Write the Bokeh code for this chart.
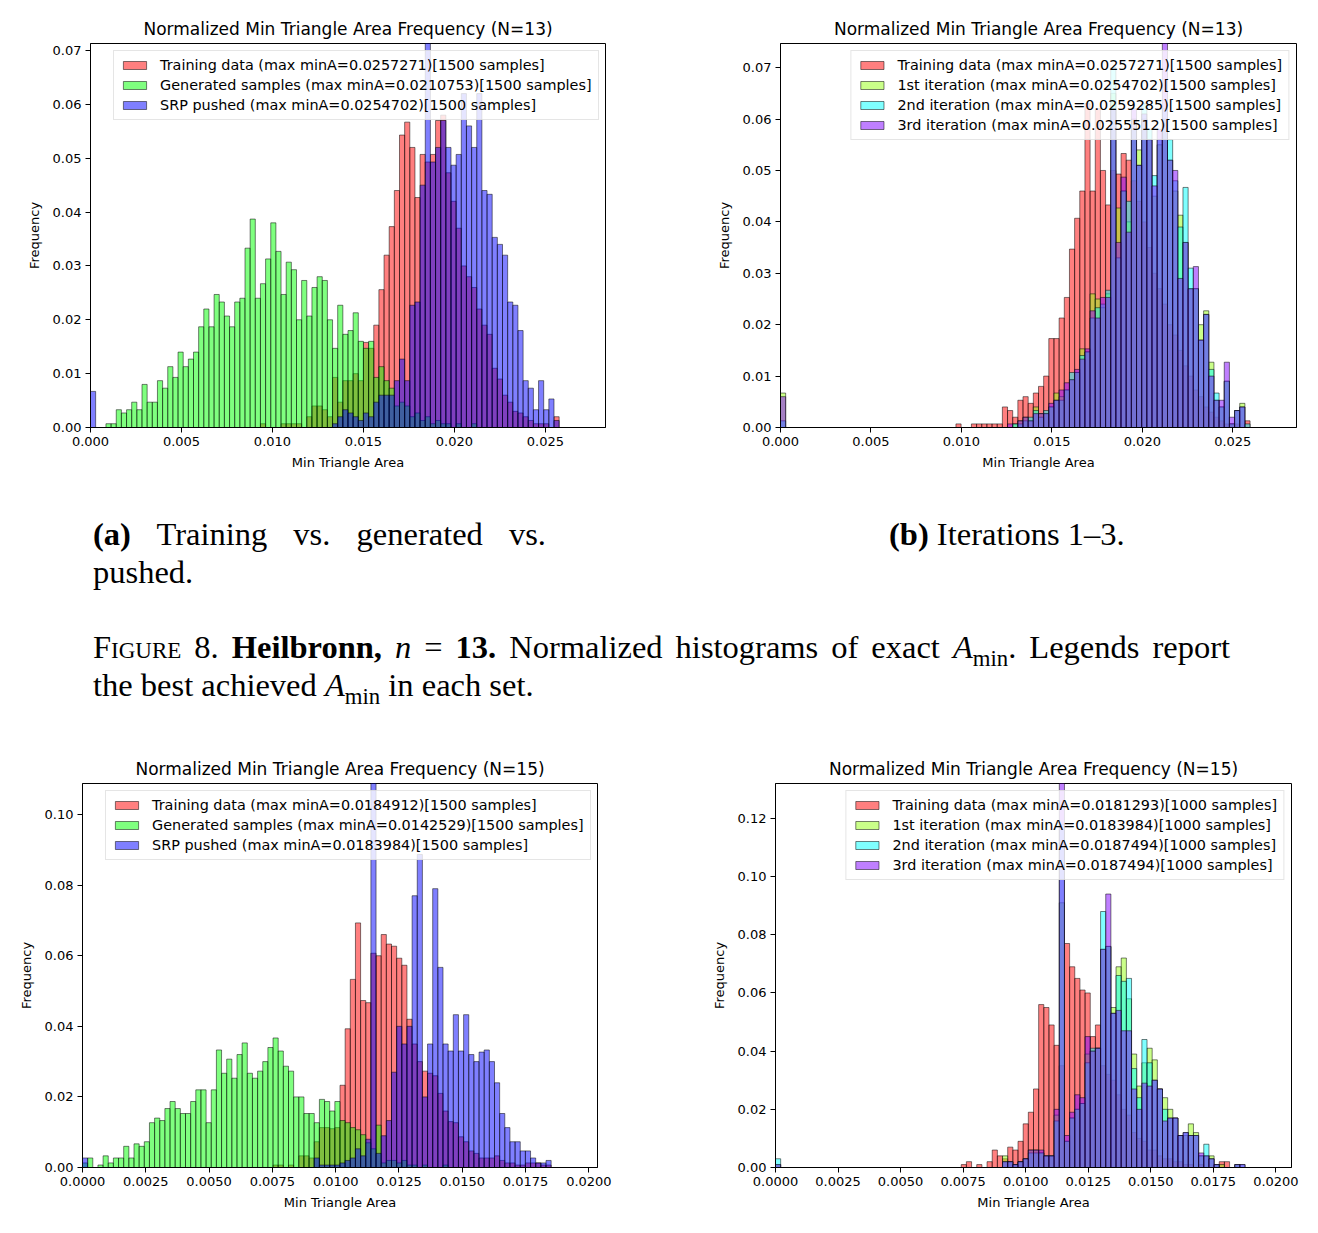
import numpy as np
from bokeh.plotting import figure
from bokeh.models import Range1d, FixedTicker, PrintfTickFormatter, Div
from bokeh.layouts import column, row
from bokeh.embed import file_html
from bokeh.resources import INLINE

FONT = "DejaVu Sans"
N_BINS = 100

# ---------------- data ----------------
# Each histogram is a set of contiguous runs {first_bin: [normalized frequency, ...]}
# over 100 equal bins spanning [0, 1.1 * best value in the panel].

TITLE_13 = "Normalized Min Triangle Area Frequency (N=13)"
TITLE_15 = "Normalized Min Triangle Area Frequency (N=15)"

# (a) n = 13 : training vs generated vs pushed
A_BEST = ["0.0257271", "0.0210753", "0.0254702"]
A_SAMPLES = [1500, 1500, 1500]
A_NAMES = ["Training data", "Generated samples", "SRP pushed"]
A_TRAIN = {33: [0.0007, 0, 0, 0, 0.0007, 0.0007, 0.0007, 0.0007, 0, 0.002,
                0.004, 0.004, 0.0033, 0.002, 0.0093, 0.0047, 0.0087, 0.0087, 0.010, 0.0087,
                0.0158, 0.0147, 0.019, 0.0256, 0.032, 0.0373, 0.044, 0.0543, 0.0567, 0.052,
                0.0427, 0.0507, 0.0493, 0.0507, 0.057, 0.058, 0.0473, 0.042, 0.037, 0.030,
                0.028, 0.026, 0.022, 0.019, 0.0173, 0.011, 0.009, 0.006, 0.0047, 0.003,
                0.0027, 0.002, 0.0013, 0.0007, 0.0007, 0.0007, 0, 0.002]}
A_GEN = {3: [0.0007, 0.0007, 0.0033, 0.0027, 0.0033, 0.0047, 0.0033,
             0.008, 0.0047, 0.0047, 0.0087, 0.0073, 0.0113, 0.0093, 0.014, 0.0113, 0.0127,
             0.014, 0.0187, 0.022, 0.0187, 0.0247, 0.0233, 0.0207, 0.0187, 0.0233, 0.024,
             0.0333, 0.0387, 0.024, 0.0267, 0.0313, 0.038, 0.0327, 0.0247, 0.0307, 0.0293,
             0.02, 0.0273, 0.0207, 0.026, 0.028, 0.0273, 0.02, 0.0147, 0.0227, 0.0173,
             0.018, 0.0213, 0.016, 0.0147, 0.016, 0.0093, 0.0113, 0.0087, 0.0073, 0.004,
             0.0047, 0.004, 0.002, 0.0027, 0.0013, 0.002, 0.0007, 0.0013, 0.0007, 0.0007,
             0, 0.0007, 0, 0, 0.0007]}
A_SRP = {0: [0.0067],
         47: [0.0007, 0.002, 0.0033,
              0.0027, 0.002, 0.0013, 0.0027, 0.002, 0.0047, 0.006, 0.006, 0.006, 0.0087,
              0.0127, 0.0087, 0.0227, 0.0233, 0.045, 0.074, 0.0493, 0.052, 0.057, 0.052,
              0.0487, 0.0507, 0.062, 0.056, 0.052, 0.062, 0.044, 0.0433, 0.0353, 0.034,
              0.032, 0.0233, 0.0227, 0.018, 0.0087, 0.0073, 0.0033, 0.0087, 0.0033, 0.0053,
              0.0013]}

# (b) n = 13 : SRP iterations 1-3
B_BEST = ["0.0257271", "0.0254702", "0.0259285", "0.0255512"]
B_SAMPLES = [1500, 1500, 1500, 1500]
B_NAMES = ["Training data", "1st iteration", "2nd iteration", "3rd iteration"]
B_TRAIN = {34: [0.0007],
           37: [0.0007, 0.0007, 0.0007,
                0.0007, 0.0007, 0.0007, 0.004, 0.0033, 0.002, 0.0053, 0.006, 0.0047, 0.0067,
                0.008, 0.010, 0.0173, 0.0173, 0.0213, 0.0253, 0.0347, 0.0407, 0.046, 0.063,
                0.046, 0.062, 0.050, 0.0433, 0.050, 0.0493, 0.0533, 0.052, 0.048, 0.044,
                0.040, 0.035, 0.030, 0.027, 0.024, 0.020, 0.018, 0.015, 0.012, 0.010,
                0.0073, 0.006, 0.004, 0.003, 0.002, 0.0013, 0.0007, 0.0007, 0.0007, 0,
                0.0013]}
B_ITER1 = {0: [0.0067],
           44: [0, 0.0007, 0.0013, 0.002, 0.0013, 0.004,
                0.0027, 0.0027, 0.004, 0.0067, 0.006, 0.0073, 0.0093, 0.0107, 0.0153, 0.0147,
                0.026, 0.025, 0.0233, 0.026, 0.065, 0.0427, 0.046, 0.040, 0.060, 0.054,
                0.060, 0.056, 0.045, 0.055, 0.060, 0.052, 0.046, 0.0413, 0.036, 0.027,
                0.027, 0.020, 0.0227, 0.0127, 0.0053, 0.004, 0.009, 0.0007, 0.0033, 0.0047]}
B_ITER2 = {0: [0.0013],
           44: [0, 0.0007, 0.0007, 0.0013, 0.002, 0.0033,
                0.002, 0.0033, 0.004, 0.0053, 0.0053, 0.0073, 0.0107, 0.0107, 0.014, 0.0147,
                0.0213, 0.0233, 0.024, 0.0267, 0.070, 0.033, 0.046, 0.044, 0.058, 0.051,
                0.063, 0.058, 0.049, 0.056, 0.062, 0.056, 0.048, 0.039, 0.0467, 0.031,
                0.027, 0.017, 0.022, 0.0113, 0.0067, 0.004, 0.009, 0.0007, 0.0033, 0.004,
                0.0007]}
B_ITER3 = {0: [0.006],
           44: [0.0007, 0, 0.0013, 0.002, 0.0013, 0.0027,
                0.0027, 0.0027, 0.0047, 0.0053, 0.0073, 0.0087, 0.0093, 0.0113, 0.0133, 0.0153,
                0.0227, 0.0213, 0.0253, 0.0253, 0.062, 0.036, 0.0487, 0.038, 0.062, 0.051,
                0.061, 0.056, 0.047, 0.058, 0.078, 0.052, 0.050, 0.029, 0.036, 0.027,
                0.0313, 0.017, 0.022, 0.010, 0.0053, 0.0053, 0.0127, 0.002, 0.0033, 0.004]}

# (c) n = 15 : training vs generated vs pushed
C_BEST = ["0.0184912", "0.0142529", "0.0183984"]
C_SAMPLES = [1500, 1500, 1500]
C_NAMES = ["Training data", "Generated samples", "SRP pushed"]
C_TRAIN = {37: [0.0007, 0.0007, 0,
                0.0007, 0, 0.0033, 0.0033, 0.0027, 0.0073, 0.0113, 0.0113, 0.011, 0.0113,
                0.0233, 0.0393, 0.0533, 0.0693, 0.0473, 0.0467, 0.0607, 0.060, 0.066, 0.0633,
                0.0627, 0.0593, 0.0573, 0.042, 0.035, 0.030, 0.0273, 0.0267, 0.026, 0.021,
                0.016, 0.013, 0.0127, 0.0087, 0.0073, 0.0047, 0.004, 0.0027, 0.0027, 0.0027,
                0.0033, 0.002, 0.0013, 0.0013, 0.0007, 0.0007, 0.0013, 0.0013, 0.0013, 0.0007,
                0.0007]}
C_GEN = {0: [0.0013, 0.0027, 0, 0.0007, 0.0033, 0.0013, 0.0027, 0.0027, 0.006, 0.0027,
             0.0067, 0.006, 0.0073, 0.0127, 0.014, 0.0133, 0.0167, 0.0187, 0.0167, 0.0153,
             0.0153, 0.0187, 0.022, 0.022, 0.0127, 0.022, 0.0333, 0.0267, 0.0307, 0.0253,
             0.032, 0.0353, 0.0267, 0.0253, 0.0273, 0.030, 0.034, 0.0367, 0.033, 0.0287,
             0.0273, 0.020, 0.020, 0.0153, 0.0153, 0.0127, 0.0193, 0.0187, 0.016, 0.0187,
             0.0133, 0.0127, 0.0113, 0.0107, 0.0093, 0.007, 0.0053, 0.012, 0.0013, 0.002,
             0.002, 0.0013, 0.002, 0.0007, 0.0007, 0, 0.0007, 0, 0, 0,
             0.0007]}
C_SRP = {0: [0.0027],
         45: [0.0027, 0.0007, 0.0007, 0.0007, 0.0007,
              0.0013, 0.002, 0.0027, 0.0053, 0.0033, 0.008, 0.118, 0.004, 0.009, 0.0133,
              0.027, 0.040, 0.035, 0.040, 0.077, 0.0887, 0.020, 0.035, 0.079, 0.0567,
              0.035, 0.033, 0.0433, 0.033, 0.0433, 0.032, 0.030, 0.0327, 0.0333, 0.030,
              0.024, 0.0153, 0.0113, 0.0073, 0.0073, 0.0047, 0.0047, 0.0027, 0.0013, 0.0013,
              0.002]}

# (d) n = 15 : SRP iterations 1-3
D_BEST = ["0.0181293", "0.0183984", "0.0187494", "0.0187494"]
D_SAMPLES = [1000, 1000, 1000, 1000]
D_NAMES = ["Training data", "1st iteration", "2nd iteration", "3rd iteration"]
D_TRAIN = {36: [0.001, 0.002, 0, 0.001,
                0, 0.002, 0.006, 0.004, 0.003, 0.007, 0.006, 0.009, 0.015, 0.019,
                0.027, 0.056, 0.055, 0.049, 0.042, 0.035, 0.077, 0.069, 0.065, 0.061,
                0.060, 0.045, 0.049, 0.035, 0.032, 0.030, 0.025, 0.020, 0.018, 0.012,
                0.010, 0.009, 0.006, 0.006, 0.004, 0.003, 0.003, 0.002, 0.002, 0.001,
                0.001, 0, 0.001, 0, 0, 0, 0.002, 0.002]}
D_ITER1 = {0: [0.001],
           44: [0.004, 0.002, 0.001, 0.002, 0.003, 0.006,
                0.006, 0.005, 0.004, 0.004, 0.018, 0.091, 0.009, 0.017, 0.020, 0.022,
                0.039, 0.040, 0.041, 0.075, 0.076, 0.055, 0.069, 0.072, 0.058, 0.039,
                0.028, 0.036, 0.041, 0.037, 0.027, 0.024, 0.020, 0.017, 0.011, 0.011,
                0.015, 0.012, 0.004, 0.004, 0.004, 0.001, 0.001, 0, 0, 0.001]}
D_ITER2 = {0: [0.003],
           44: [0.002, 0.002, 0.001, 0.002, 0.003, 0.005,
                0.005, 0.005, 0.004, 0.004, 0.016, 0.118, 0.009, 0.017, 0.020, 0.022,
                0.036, 0.041, 0.041, 0.088, 0.076, 0.053, 0.066, 0.064, 0.065, 0.034,
                0.024, 0.044, 0.036, 0.030, 0.027, 0.020, 0.017, 0.017, 0.011, 0.012,
                0.011, 0.011, 0.004, 0.008, 0.003, 0.001, 0, 0, 0, 0.001,
                0.001]}
D_ITER3 = {0: [0.001],
           44: [0.002, 0.002, 0.001, 0.002, 0.003, 0.006,
                0.006, 0.006, 0.004, 0.004, 0.020, 0.140, 0.011, 0.019, 0.025, 0.024,
                0.045, 0.040, 0.041, 0.075, 0.094, 0.053, 0.054, 0.047, 0.047, 0.027,
                0.020, 0.029, 0.028, 0.030, 0.027, 0.016, 0.017, 0.017, 0.011, 0.012,
                0.011, 0.011, 0.005, 0.004, 0.003, 0.001, 0, 0, 0, 0.001,
                0.001]}

X_TICKS_13 = [0.0, 0.005, 0.010, 0.015, 0.020, 0.025]
X_TICKS_15 = [0.0, 0.0025, 0.005, 0.0075, 0.010, 0.0125, 0.015, 0.0175, 0.020]
Y_TICKS_A = [0.0, 0.01, 0.02, 0.03, 0.04, 0.05, 0.06, 0.07]
Y_TICKS_C = [0.0, 0.02, 0.04, 0.06, 0.08, 0.10]
Y_TICKS_D = [0.0, 0.02, 0.04, 0.06, 0.08, 0.10, 0.12]

# ---------------- drawing ----------------
PUSH_COLORS = ["#ff0000", "#00ff00", "#0000ff"]
ITER_COLORS = ["#ff0000", "#96ff14", "#00ffff", "#8000ff"]


def expand(runs):
    h = np.zeros(N_BINS)
    for start, vals in runs.items():
        h[start:start + len(vals)] = vals
    return h


def panel(title, names, best, samples, runs, colors, y_top, x_ticks, x_fmt, y_ticks,
          legend_loc, left, right, top, bottom, frame_w, frame_h):
    x_max = 1.1 * max(float(b) for b in best)
    p = figure(width=left + frame_w + right, height=top + frame_h + bottom,
               x_range=Range1d(0, x_max), y_range=Range1d(0, y_top),
               min_border_left=left, min_border_right=right,
               min_border_top=top, min_border_bottom=bottom,
               output_backend="svg", toolbar_location=None, title=title)
    edges = np.linspace(0, x_max, N_BINS + 1)
    for name, b, n, r, c in zip(names, best, samples, runs, colors):
        h = expand(r)
        idx = np.nonzero(h)[0]
        p.quad(left=edges[idx], right=edges[idx + 1], bottom=0, top=h[idx],
               fill_color=c, fill_alpha=0.5, line_color="black", line_alpha=0.5,
               line_width=1, legend_label=f"{name} (max minA={b})[{n} samples]")

    p.title.align = "center"
    p.title.text_font = FONT
    p.title.text_font_size = "17px"
    p.title.text_font_style = "normal"
    p.title.text_color = "black"
    p.title.standoff = 9

    p.xgrid.visible = False
    p.ygrid.visible = False
    p.outline_line_color = "black"
    p.outline_line_alpha = 1
    p.outline_line_width = 1
    p.background_fill_color = "white"
    p.border_fill_color = "white"

    for ax in (p.xaxis[0], p.yaxis[0]):
        ax.axis_line_color = "black"
        ax.major_tick_line_color = "black"
        ax.minor_tick_line_color = None
        ax.major_tick_out = 5
        ax.major_tick_in = 0
        ax.major_label_standoff = 4
        ax.major_label_text_font = FONT
        ax.major_label_text_font_size = "13px"
        ax.major_label_text_color = "black"
        ax.axis_label_text_font = FONT
        ax.axis_label_text_font_size = "13px"
        ax.axis_label_text_font_style = "normal"
        ax.axis_label_text_color = "black"
    p.xaxis.ticker = FixedTicker(ticks=x_ticks)
    p.xaxis.formatter = PrintfTickFormatter(format=x_fmt)
    p.yaxis.ticker = FixedTicker(ticks=y_ticks)
    p.yaxis.formatter = PrintfTickFormatter(format="%.2f")
    p.xaxis.axis_label = "Min Triangle Area"
    p.yaxis.axis_label = "Frequency"
    p.xaxis.axis_label_standoff = 6
    p.yaxis.axis_label_standoff = 8

    lg = p.legend[0]
    lg.location = legend_loc
    lg.margin = 7
    lg.label_text_font = FONT
    lg.label_text_font_size = "14.4px"
    lg.label_text_color = "black"
    lg.glyph_width = 29
    lg.glyph_height = 10
    lg.label_standoff = 11
    lg.label_height = 15
    lg.padding = 6
    lg.spacing = 4
    lg.border_line_color = "#cccccc"
    lg.border_line_width = 1
    lg.background_fill_color = "white"
    lg.background_fill_alpha = 0.8
    return p


pa = panel(TITLE_13, A_NAMES, A_BEST, A_SAMPLES, [A_TRAIN, A_GEN, A_SRP], PUSH_COLORS,
           0.0713, X_TICKS_13, "%.3f", Y_TICKS_A, (23, 384 - 7 - 70),
           90, 54, 43, 65, 515, 384)
pb = panel(TITLE_13, B_NAMES, B_BEST, B_SAMPLES, [B_TRAIN, B_ITER1, B_ITER2, B_ITER3],
           ITER_COLORS, 0.0747, X_TICKS_13, "%.3f", Y_TICKS_A, "top_right",
           121, 22, 43, 65, 516, 384)
pc = panel(TITLE_15, C_NAMES, C_BEST, C_SAMPLES, [C_TRAIN, C_GEN, C_SRP], PUSH_COLORS,
           0.1088, X_TICKS_15, "%.4f", Y_TICKS_C, (23, 384 - 7 - 70),
           82, 62, 48, 66, 515, 384)
pd_ = panel(TITLE_15, D_NAMES, D_BEST, D_SAMPLES, [D_TRAIN, D_ITER1, D_ITER2, D_ITER3],
            ITER_COLORS, 0.132, X_TICKS_15, "%.4f", Y_TICKS_D, "top_right",
            116, 27, 48, 66, 516, 384)

AMIN = "<i>A</i><sub style='font-size:70%'>min</sub>"
caption_html = f"""
<div style="position:relative;width:1318px;height:243px;font-family:'Liberation Serif','Times New Roman',serif;
            font-size:32.5px;line-height:38px;color:#000;">
  <div style="position:absolute;left:93px;top:23px;width:453px;text-align:justify;text-align-last:justify;">
    <b>(a)</b> Training vs. generated vs.</div>
  <div style="position:absolute;left:93px;top:61px;">pushed.</div>
  <div style="position:absolute;left:889px;top:23px;white-space:nowrap;"><b>(b)</b> Iterations 1&ndash;3.</div>
  <div style="position:absolute;left:93px;top:136px;width:1137px;text-align:justify;text-align-last:justify;">
    <span style="font-variant:small-caps;">Figure</span> 8. <b>Heilbronn,</b> <i>n</i> = <b>13.</b>
    Normalized histograms of exact {AMIN}. Legends report</div>
  <div style="position:absolute;left:93px;top:174px;white-space:nowrap;">the best achieved {AMIN} in each set.</div>
</div>
"""
caption = Div(text=caption_html, width=1318, height=243, margin=(0, 0, 0, 0))

layout = column(row(pa, pb), caption, row(pc, pd_))

with open("out.html", "w") as f:
    f.write(file_html(layout, INLINE))
